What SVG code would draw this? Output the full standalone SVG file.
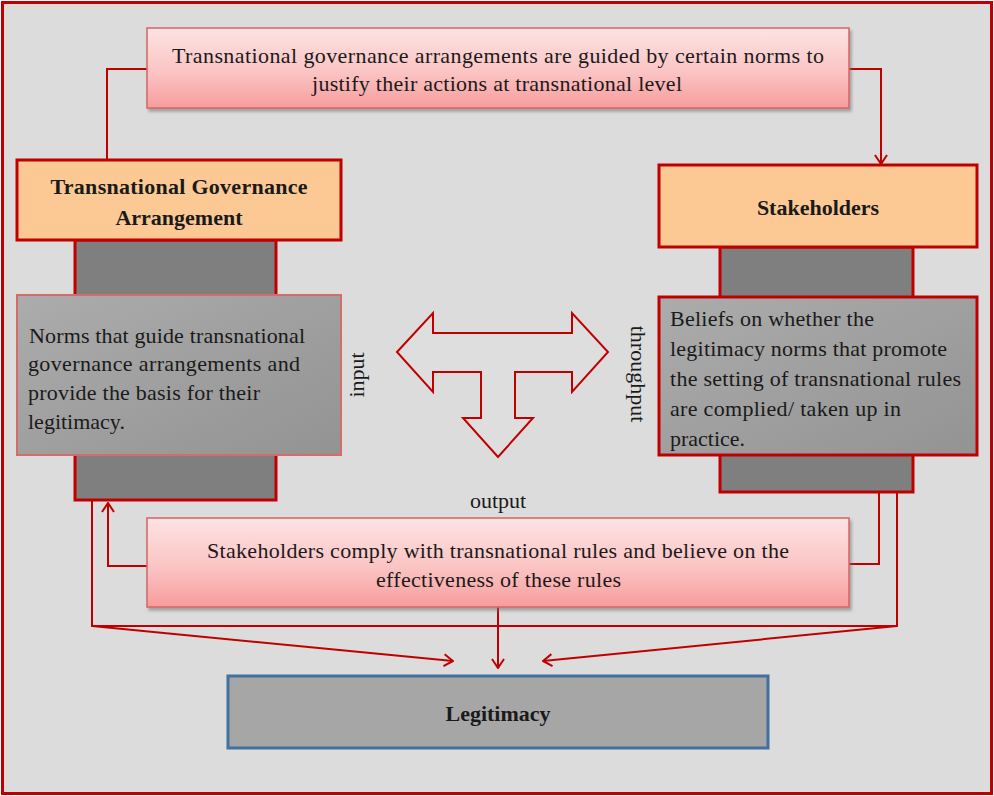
<svg xmlns="http://www.w3.org/2000/svg" width="994" height="796" viewBox="0 0 994 796" font-family="'Liberation Serif', 'Times New Roman', Times, Tinos, serif">
  <style>
    text { font-family: "Liberation Serif", "Times New Roman", Times, Tinos, serif; fill: #1a1a1a; }
    .t22 { font-size: 22px; }
    .bold { font-size: 22px; font-weight: bold; }
    .c { text-anchor: middle; }
    .pink { fill: url(#pinkGrad); stroke: #d36565; stroke-width: 1.5; filter: url(#shadow); }
    .peach { fill: #fcc994; stroke: #c00000; stroke-width: 3; }
    .column { fill: #7f7f7f; stroke: #c00000; stroke-width: 3; }
    .grey { fill: url(#greyGrad); }
    .conn { fill: none; stroke: #c00000; stroke-width: 2; }
    .block { fill: #dedede; stroke: #c00000; stroke-width: 2; stroke-linejoin: miter; }
  </style>
  <defs>
    <linearGradient id="pinkGrad" x1="0" y1="0" x2="0" y2="1">
      <stop offset="0" stop-color="#fde3e3"/>
      <stop offset="0.55" stop-color="#fbc4c4"/>
      <stop offset="1" stop-color="#f79c9c"/>
    </linearGradient>
    <linearGradient id="greyGrad" x1="0" y1="0" x2="1" y2="1">
      <stop offset="0" stop-color="#acacac"/>
      <stop offset="1" stop-color="#939393"/>
    </linearGradient>
    <filter id="shadow" x="-5%" y="-10%" width="115%" height="130%">
      <feDropShadow dx="2" dy="3" stdDeviation="1.5" flood-color="#707070" flood-opacity="0.55"/>
    </filter>
    <marker id="arrow" viewBox="0 0 12 14" refX="11" refY="7" markerWidth="12" markerHeight="14" markerUnits="userSpaceOnUse" orient="auto">
      <path d="M2,1 L11,7 L2,13" fill="none" stroke="#c00000" stroke-width="2"/>
    </marker>
  </defs>

  <!-- frame -->
  <rect x="2.5" y="2.5" width="989" height="791" fill="#dcdcdc" stroke="#c00000" stroke-width="3"/>

  <!-- connectors -->
  <g id="connectors">
    <path class="conn" d="M147,69 H107 V160"/>
    <path class="conn" d="M849,69 H881 V164" marker-end="url(#arrow)"/>
    <path class="conn" d="M147,566 H108 V503" marker-end="url(#arrow)"/>
    <path class="conn" d="M92,501 V626 H897 V492"/>
    <path class="conn" d="M92,626 L453,661" marker-end="url(#arrow)"/>
    <path class="conn" d="M897,626 L543,661" marker-end="url(#arrow)"/>
    <path class="conn" d="M879,492 V564 H849"/>
    <path class="conn" d="M498,607 V668" marker-end="url(#arrow)"/>
  </g>

  <!-- top statement -->
  <g id="norms-statement">
    <rect class="pink" x="147" y="28" width="702" height="80"/>
    <text class="t22" x="172" y="63" textLength="652" lengthAdjust="spacing">Transnational governance arrangements are guided by certain norms  to</text>
    <text class="t22" x="312" y="91" textLength="370" lengthAdjust="spacing">justify their actions at transnational  level</text>
  </g>

  <!-- left pillar: transnational governance arrangement -->
  <g id="tga">
    <rect class="column" x="75" y="240" width="201" height="260"/>
    <rect class="peach" x="17" y="160" width="324" height="80"/>
    <text class="bold c" x="179" y="194" textLength="257" lengthAdjust="spacing">Transnational Governance</text>
    <text class="bold c" x="179" y="225">Arrangement</text>
  </g>
  <g id="input-norms">
    <rect class="grey" x="17" y="295" width="324" height="160" stroke="#d46c6c" stroke-width="2"/>
    <text class="t22" x="29" y="343" textLength="276" lengthAdjust="spacing">Norms that guide transnational</text>
    <text class="t22" x="28" y="371" textLength="272" lengthAdjust="spacing">governance arrangements and</text>
    <text class="t22" x="28" y="400" textLength="232" lengthAdjust="spacing">provide the basis for their</text>
    <text class="t22" x="28" y="429">legitimacy.</text>
  </g>

  <!-- right pillar: stakeholders -->
  <g id="stakeholders">
    <rect class="column" x="720" y="247" width="193" height="245"/>
    <rect class="peach" x="659" y="165" width="318" height="82"/>
    <text class="bold c" x="818" y="215">Stakeholders</text>
  </g>
  <g id="throughput-beliefs">
    <rect class="grey" x="659" y="297" width="318" height="158" stroke="#c00000" stroke-width="3"/>
    <text class="t22" x="670" y="326" textLength="204" lengthAdjust="spacing">Beliefs on whether the</text>
    <text class="t22" x="670" y="356" textLength="277" lengthAdjust="spacing">legitimacy norms that promote</text>
    <text class="t22" x="670" y="386" textLength="291" lengthAdjust="spacing">the setting of transnational rules</text>
    <text class="t22" x="670" y="416" textLength="231" lengthAdjust="spacing">are complied/ taken up in</text>
    <text class="t22" x="670" y="446">practice.</text>
  </g>

  <!-- central flow arrows -->
  <g id="flow-arrows">
    <path class="block" d="M397,352 L433,313 V333 H572 V313 L608,352 L572,392 V372 H515 V418 H533 L498,457 L463,418 H481 V372 H433 V392 Z"/>
  </g>

  <!-- stage labels -->
  <g id="labels">
    <text class="t22 c" transform="translate(364,375) rotate(-90)">input</text>
    <text class="t22 c" transform="translate(631,374) rotate(90)">throughput</text>
    <text class="t22 c" x="498" y="508">output</text>
  </g>

  <!-- output statement -->
  <g id="output-statement">
    <rect class="pink" x="147" y="518" width="702" height="89"/>
    <text class="t22" x="207" y="558" textLength="582" lengthAdjust="spacing">Stakeholders comply with transnational rules and believe on the</text>
    <text class="t22" x="376" y="587" textLength="245" lengthAdjust="spacing">effectiveness of these rules</text>
  </g>

  <!-- result -->
  <g id="legitimacy">
    <rect x="228" y="676" width="540" height="72" fill="#a6a6a6" stroke="#41719c" stroke-width="3"/>
    <text class="bold c" x="498" y="721">Legitimacy</text>
  </g>
</svg>
